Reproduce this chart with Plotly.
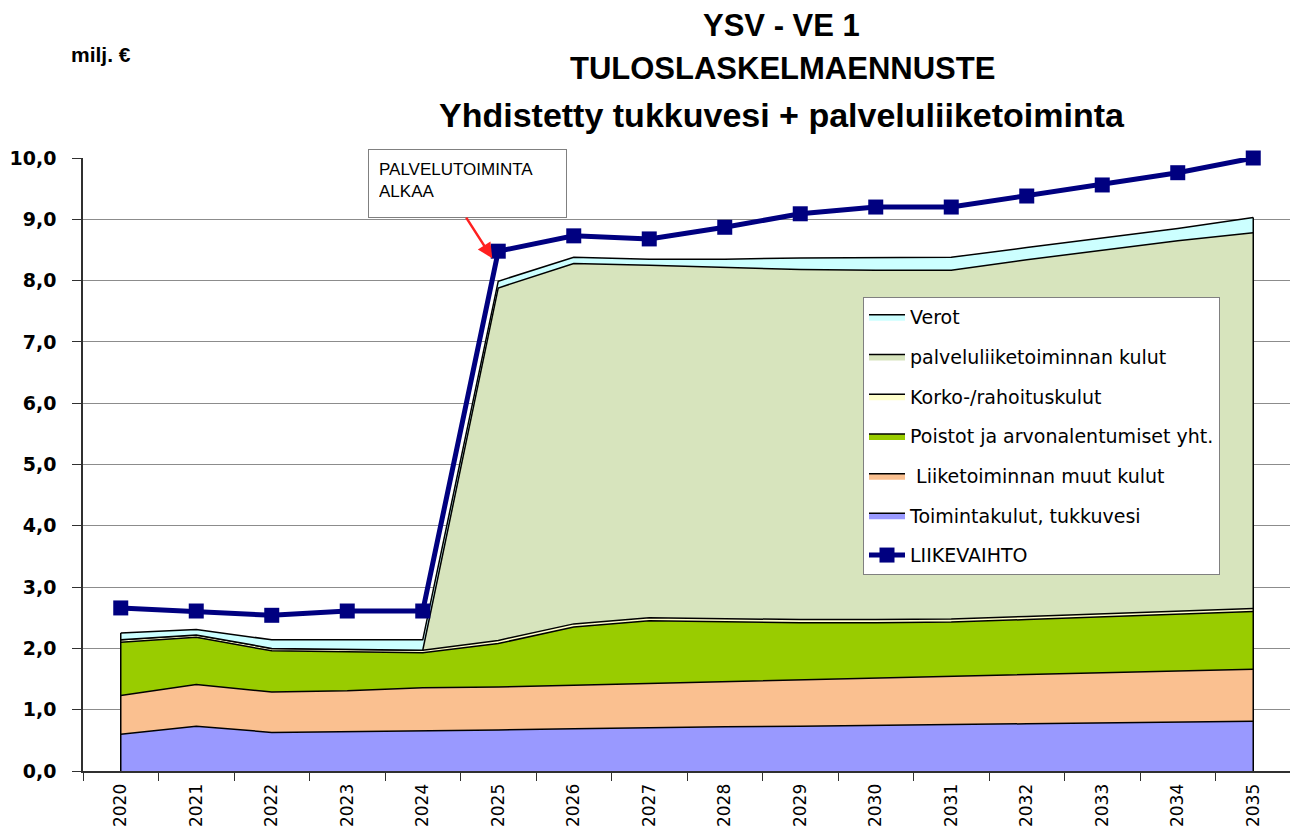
import plotly.graph_objects as go

# ---- data (milj. €) ----
years = ["2020", "2021", "2022", "2023", "2024", "2025", "2026", "2027",
         "2028", "2029", "2030", "2031", "2032", "2033", "2034", "2035"]
toimintakulut = [0.60, 0.73, 0.63, 0.64, 0.66, 0.67, 0.69, 0.71, 0.72, 0.73, 0.75, 0.76, 0.77, 0.78, 0.80, 0.81]
muut_kulut = [0.63, 0.68, 0.66, 0.67, 0.70, 0.70, 0.71, 0.72, 0.74, 0.76, 0.77, 0.79, 0.81, 0.82, 0.84, 0.85]
poistot = [0.87, 0.77, 0.67, 0.64, 0.57, 0.71, 0.95, 1.02, 0.97, 0.93, 0.90, 0.88, 0.89, 0.91, 0.92, 0.94]
korko = [0.04, 0.04, 0.04, 0.04, 0.04, 0.05, 0.05, 0.05, 0.05, 0.05, 0.05, 0.05, 0.05, 0.05, 0.05, 0.05]
palvelu = [0.0, 0.0, 0.0, 0.0, 0.0, 5.75, 5.88, 5.75, 5.73, 5.71, 5.70, 5.69, 5.82, 5.94, 6.04, 6.13]
verot = [0.11, 0.09, 0.14, 0.15, 0.17, 0.11, 0.10, 0.10, 0.14, 0.19, 0.21, 0.21, 0.20, 0.19, 0.20, 0.25]
liikevaihto = [2.66, 2.61, 2.54, 2.61, 2.61, 8.48, 8.73, 8.68, 8.87, 9.09, 9.20, 9.20, 9.38, 9.56, 9.76, 10.00]

area_series = [
    ("Toimintakulut, tukkuvesi", toimintakulut, "#9999FF", 6),
    (" Liiketoiminnan muut kulut", muut_kulut, "#FAC090", 5),
    ("Poistot ja arvonalentumiset yht.", poistot, "#99CC00", 4),
    ("Korko-/rahoituskulut", korko, "#FFFFCC", 3),
    ("palveluliiketoiminnan kulut", palvelu, "#D7E4BD", 2),
    ("Verot", verot, "#CCFFFF", 1),
]

LEGEND_FONT = dict(family="DejaVu Sans", size=19, color="black")

fig = go.Figure()
for name, vals, col, rank in area_series:
    fig.add_trace(go.Scatter(
        x=years, y=vals, name=name, mode="lines", stackgroup="costs",
        fillcolor=col, line=dict(color="black", width=1.5),
        legendrank=rank, legendgroup=name, hoverinfo="skip",
    ))

# vertical outline edges of the stacked area (from data totals)
totals = [sum(v) for v in zip(toimintakulut, muut_kulut, poistot, korko, palvelu, verot)]
for i in (0, len(years) - 1):
    fig.add_trace(go.Scatter(x=[years[i], years[i]], y=[0, totals[i]], mode="lines",
                             line=dict(color="black", width=1.5), showlegend=False,
                             hoverinfo="skip"))

fig.add_trace(go.Scatter(
    x=years, y=liikevaihto, name="LIIKEVAIHTO", mode="lines+markers",
    line=dict(color="#000080", width=5),
    marker=dict(symbol="square", size=15, color="#000080"),
    legendrank=7, legendgroup="LIIKEVAIHTO", cliponaxis=False,
))

# page body has an 8px default margin: work in screenshot px, convert to figure px
OFF = 8
W, H = 1298 - OFF, 834 - OFF
L, R, T, B = 83 - OFF, 1291 - OFF, 158 - OFF, 771 - OFF
def px(xs):
    return (xs - OFF - L) / (R - L)
def py(ys):
    return (B - (ys - OFF)) / (B - T)

fig.update_layout(
    width=W, height=H,
    margin=dict(l=L, r=W - R, t=T, b=H - B, autoexpand=False),
    paper_bgcolor="white", plot_bgcolor="white",
    separators=", ",
    showlegend=True,
    legend=dict(x=px(863), y=py(297), xanchor="left", yanchor="top",
                bgcolor="white", bordercolor="#808080", borderwidth=1,
                font=LEGEND_FONT, tracegroupgap=12, itemwidth=36),
    xaxis=dict(type="category", range=[-0.5, 15.5], showgrid=False, automargin=False,
               showline=True, linecolor="#303030", linewidth=2,
               ticks="outside", tickson="boundaries", ticklen=8, tickcolor="#303030",
               tickangle=-90, ticklabelstandoff=4,
               tickfont=dict(family="DejaVu Sans", size=17, color="black")),
    yaxis=dict(range=[0, 10], dtick=1, tickformat=".1f", automargin=False,
               showgrid=True, gridcolor="#8c8c8c", gridwidth=1,
               showline=True, linecolor="#303030", linewidth=1.5,
               ticks="outside", ticklen=9, tickcolor="#303030",
               zeroline=False, ticklabelstandoff=12,
               tickfont=dict(family="DejaVu Sans", size=19, color="black", weight="bold")),
    shapes=[dict(type="line", xref="paper", yref="paper", x0=1, x1=1, y0=0, y1=1,
                 line=dict(color="#a0a0a0", width=1))],
)

TITLE_FONT = "Liberation Sans"
fig.add_annotation(text="YSV - VE 1", xref="paper", yref="paper", x=px(781), y=py(25),
                   xanchor="center", yanchor="middle", showarrow=False,
                   font=dict(family=TITLE_FONT, size=31, color="black", weight="bold"))
fig.add_annotation(text="TULOSLASKELMAENNUSTE", xref="paper", yref="paper", x=px(782), y=py(69),
                   xanchor="center", yanchor="middle", showarrow=False,
                   font=dict(family=TITLE_FONT, size=31, color="black", weight="bold"))
fig.add_annotation(text="Yhdistetty tukkuvesi + palveluliiketoiminta", xref="paper", yref="paper",
                   x=px(782), y=py(115), xanchor="center", yanchor="middle", showarrow=False,
                   font=dict(family=TITLE_FONT, size=34, color="black", weight="bold"))
fig.add_annotation(text="milj. €", xref="paper", yref="paper", x=px(101), y=py(55),
                   xanchor="center", yanchor="middle", showarrow=False,
                   font=dict(family=TITLE_FONT, size=21, color="black", weight="bold"))

# callout box
fig.add_annotation(text="PALVELUTOIMINTA<br>ALKAA", xref="paper", yref="paper",
                   x=px(368), y=py(149), xanchor="left", yanchor="top",
                   showarrow=False, align="left", valign="top",
                   width=177, height=47, borderpad=10,
                   bgcolor="white", bordercolor="#808080", borderwidth=1,
                   font=dict(family="Liberation Sans", size=17, color="black"))
# red arrow to the 2025 point (category index on the category axis)
i2025 = years.index("2025")
fig.add_annotation(text="", x=i2025, y=liikevaihto[i2025], xref="x", yref="y",
                   xshift=-6, yshift=-7, ax=-27, ay=-42, standoff=0,
                   showarrow=True, arrowhead=2, arrowsize=1.2, arrowwidth=2.5,
                   arrowcolor="#FF2020")

fig.write_html("out.html")
